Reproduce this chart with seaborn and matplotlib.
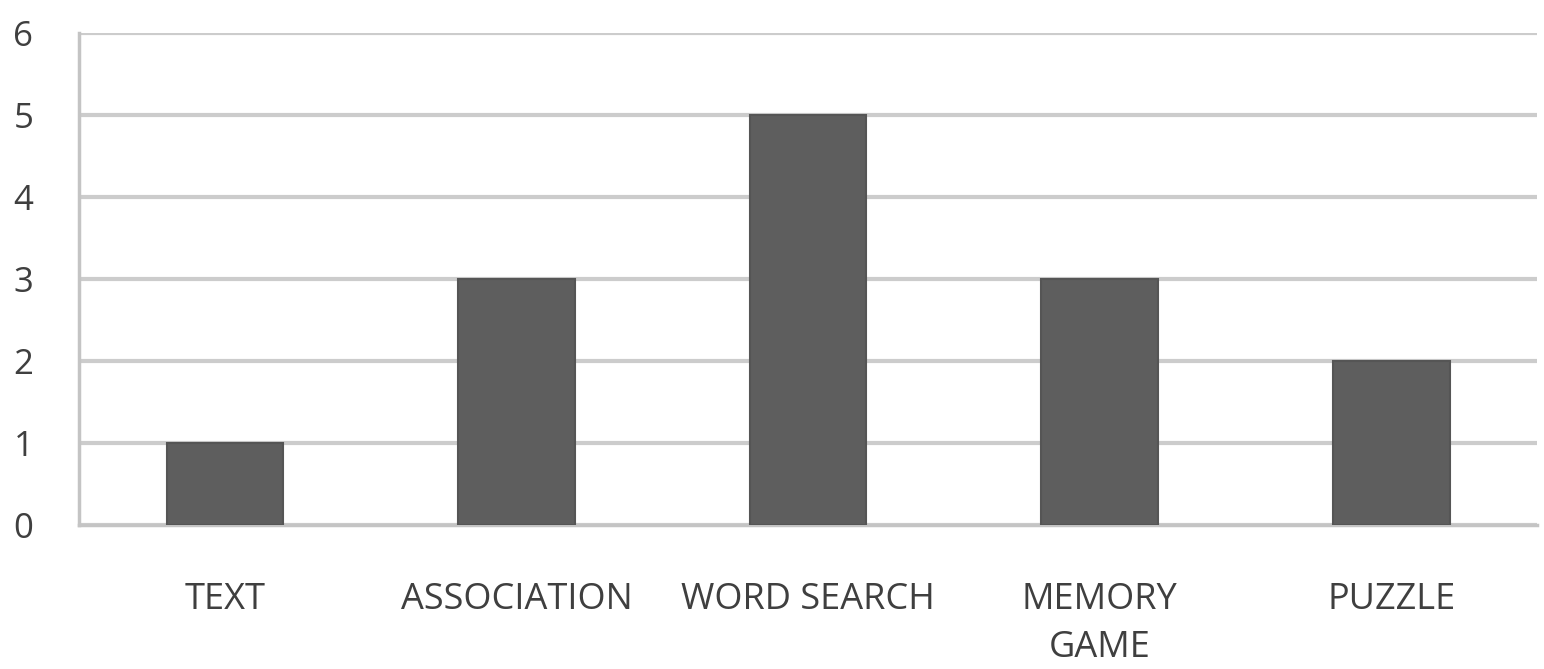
import matplotlib
matplotlib.use("Agg")
import matplotlib.pyplot as plt
import seaborn as sns
import pandas as pd

categories = ["TEXT", "ASSOCIATION", "WORD SEARCH", "MEMORY\nGAME", "PUZZLE"]
values = [1, 3, 5, 3, 2]
y_ticks = [0, 1, 2, 3, 4, 5, 6]

df = pd.DataFrame({"activity": categories, "count": values})

sns.set_theme(style="white")
plt.rcParams["font.family"] = ["Open Sans", "DejaVu Sans"]

fig = plt.figure(figsize=(15.44, 6.69), dpi=100)
ax = fig.add_axes([0.0512, 0.2152, 0.9443, 0.7355])

sns.barplot(data=df, x="activity", y="count", color="#5e5e5e",
            saturation=1, width=0.4, ax=ax, zorder=3,
            edgecolor="#555555", linewidth=1.5)

ax.set_ylim(0, 6)
ax.set_xlim(-0.5, len(categories) - 0.5)
ax.set_yticks(y_ticks)
ax.yaxis.grid(True, color="#cccccc", linewidth=3, zorder=0)
ax.set_axisbelow(True)

for side in ("top", "right"):
    ax.spines[side].set_visible(False)
for side in ("left", "bottom"):
    ax.spines[side].set_color("#c4c4c4")
    ax.spines[side].set_linewidth(2.5)

ax.set_xlabel("")
ax.set_ylabel("")
ax.tick_params(axis="x", length=0, pad=41, labelsize=26, labelcolor="#3f3f3f")
ax.tick_params(axis="y", length=0, pad=33, labelsize=25, labelcolor="#3f3f3f")
for lbl in ax.get_xticklabels():
    lbl.set_linespacing(1.45)

fig.savefig("out.png", dpi=100, facecolor="white")
